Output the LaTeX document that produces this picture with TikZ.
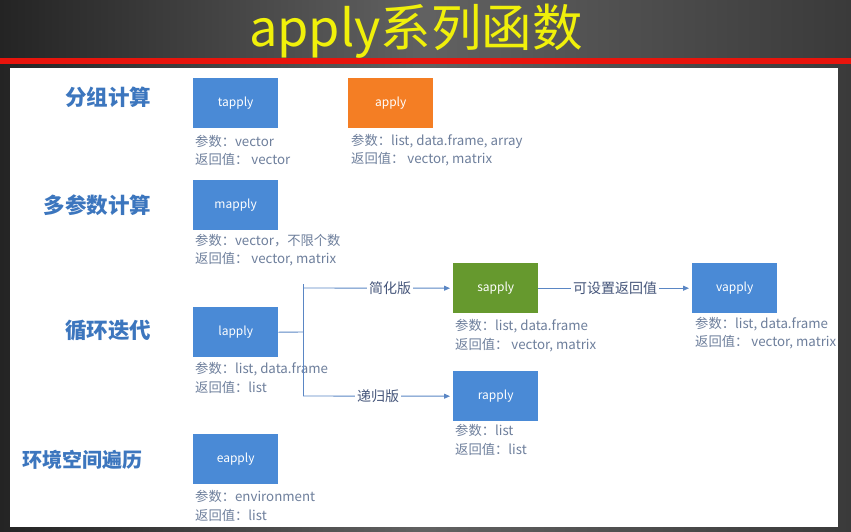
\documentclass[tikz,border=0pt]{standalone}
\usepackage{fontspec}
\setmainfont{Noto Sans CJK SC}
\usetikzlibrary{arrows.meta}
\definecolor{slide}{HTML}{3A3A3A}
\definecolor{slidedark}{HTML}{242424}
\definecolor{titleyellow}{HTML}{F0F00A}
\definecolor{rulered}{HTML}{E8140C}
\definecolor{boxblue}{HTML}{4A8AD6}
\definecolor{boxorange}{HTML}{F47E24}
\definecolor{boxgreen}{HTML}{66992E}
\definecolor{catblue}{HTML}{3C76BE}
\definecolor{notegray}{HTML}{6E7F9C}
\definecolor{linkblue}{HTML}{5A86C4}
\definecolor{linktext}{HTML}{45557A}
\tikzset{
  fnbox/.style={rectangle, fill=boxblue, minimum width=85pt, minimum height=50pt,
    anchor=north west, inner sep=0pt, text=white, font=\fontsize{12}{14}\selectfont},
  category/.style={anchor=east, text=catblue, font=\fontsize{21.5}{25}\selectfont\bfseries},
  note/.style={anchor=west, inner sep=0pt, text=notegray, font=\fontsize{13.3}{15}\selectfont},
  link/.style={draw=linkblue, line width=0.9pt},
  linkarrow/.style={link, -{Triangle[length=6pt,width=5pt]}, shorten >=3pt},
  linklabel/.style={fill=white, inner sep=2pt, text=linktext, font=\fontsize{14}{16}\selectfont}
}
\begin{document}
\begin{tikzpicture}[x=1pt, y=-1pt]
  \useasboundingbox (0,0) rectangle (851,531);
  % slide background and header
  \shade[left color=slidedark, right color=slide, middle color=slide!80!white] (0,0) rectangle (851,531);
  \fill[white] (10,68) rectangle (838,527);
  \node[text=titleyellow, font=\fontsize{50.5}{55}\selectfont] (title) at (416,31) {apply系列函数};
  \fill[rulered] (0,58) rectangle (851,63.5);

  % category labels
  \node[category] (group) at (155,97) {分组计算};
  \node[category] (multi) at (155,205) {多参数计算};
  \node[category] (loop) at (155,331) {循环迭代};
  \node[category, font=\fontsize{20}{24}\selectfont\bfseries] (env) at (146,460) {环境空间遍历};

  % function boxes
  \node[fnbox] (tapply) at (193,78) {tapply};
  \node[fnbox, fill=boxorange] (apply) at (348,78) {apply};
  \node[fnbox] (mapply) at (193,180) {mapply};
  \node[fnbox] (lapply) at (193,307) {lapply};
  \node[fnbox, fill=boxgreen] (sapply) at (453,263) {sapply};
  \node[fnbox] (rapply) at (453,371) {rapply};
  \node[fnbox] (vapply) at (692,263) {vapply};
  \node[fnbox] (eapply) at (193,434) {eapply};

  % argument / return notes
  \node[note] (tapplyArg) at (195,141) {参数：vector};
  \node[note] (tapplyRet) at (195,159) {返回值： vector};
  \node[note] (applyArg) at (351,141) {参数：list, data.frame, array};
  \node[note] (applyRet) at (351,159) {返回值： vector, matrix};
  \node[note] (mapplyArg) at (195,241) {参数：vector，不限个数};
  \node[note] (mapplyRet) at (195,259) {返回值： vector, matrix};
  \node[note] (lapplyArg) at (195,369) {参数：list, data.frame};
  \node[note] (lapplyRet) at (195,387) {返回值：list};
  \node[note] (sapplyArg) at (455,326) {参数：list, data.frame};
  \node[note] (sapplyRet) at (455,345) {返回值： vector, matrix};
  \node[note] (rapplyArg) at (455,430) {参数：list};
  \node[note] (rapplyRet) at (455,449) {返回值：list};
  \node[note] (vapplyArg) at (695,324) {参数：list, data.frame};
  \node[note] (vapplyRet) at (695,342) {返回值： vector, matrix};
  \node[note] (eapplyArg) at (195,496) {参数：environment};
  \node[note] (eapplyRet) at (195,515) {返回值：list};

  % connectors out of lapply
  \coordinate (fork) at (303,332);
  \coordinate (forkTop) at (303,284);
  \coordinate (forkUp) at (303,288);
  \coordinate (forkLow) at (303,396);
  \draw[link] (lapply.east) -- (fork);
  \draw[link] (forkTop) -- (forkLow);
  \draw[linkarrow] (forkUp) -- node[linklabel, pos=0.58] (simplified) {简化版} (sapply.west);
  \draw[linkarrow] (forkLow) -- node[linklabel, pos=0.5] (recursive) {递归版} (rapply.west);
  \draw[linkarrow] (sapply.east) -- node[linklabel, pos=0.5] (typed) {可设置返回值} (vapply.west);
\end{tikzpicture}
\end{document}
